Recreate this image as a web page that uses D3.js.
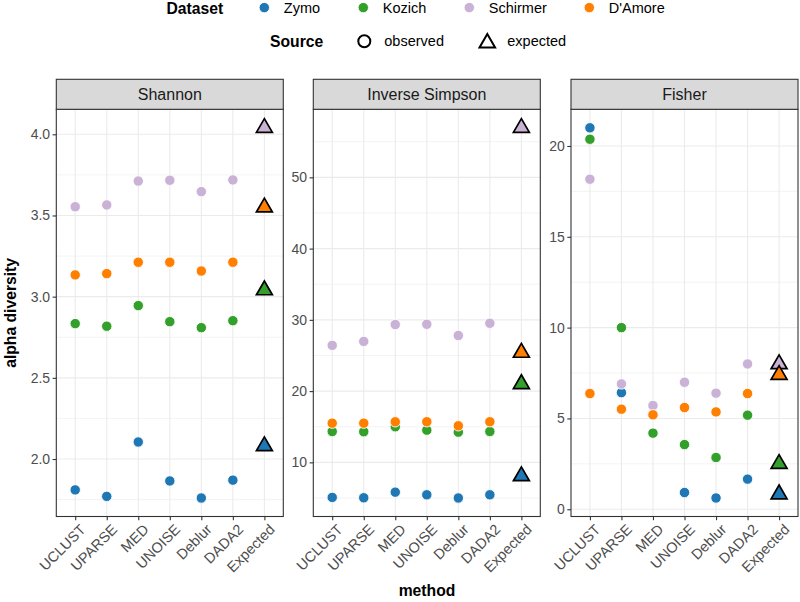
<!DOCTYPE html>
<html><head><meta charset="utf-8">
<script src="https://cdn.jsdelivr.net/npm/d3@7"></script>
<style>body{margin:0;background:#fff}svg{display:block}text{font-family:"Liberation Sans",Arial,Helvetica,sans-serif}</style>
</head><body><svg id="c" width="800" height="602"></svg>
<script>
const methods = ["UCLUST","UPARSE","MED","UNOISE","Deblur","DADA2","Expected"];
const datasets = ["Zymo","Kozich","Schirmer","D'Amore"];
const colors = ["#1F78B4","#33A02C","#CAB2D6","#FF7F00"];
const metrics = ["Shannon","Inverse Simpson","Fisher"];

// observed values per dataset, methods UCLUST..DADA2
const shannonZymo     = [1.81, 1.77, 2.105, 1.865, 1.76, 1.87];
const shannonKozich   = [2.834, 2.818, 2.945, 2.846, 2.809, 2.852];
const shannonSchirmer = [3.554, 3.565, 3.712, 3.717, 3.647, 3.719];
const shannonDAmore   = [3.134, 3.142, 3.212, 3.212, 3.158, 3.212];
const shannonExpected = [2.08, 3.04, 4.04, 3.55];

const invsimpZymo     = [5.08, 5.03, 5.82, 5.45, 5.0, 5.45];
const invsimpKozich   = [14.33, 14.3, 15.0, 14.52, 14.24, 14.33];
const invsimpSchirmer = [26.42, 26.97, 29.34, 29.38, 27.8, 29.52];
const invsimpDAmore   = [15.5, 15.5, 15.69, 15.7, 15.13, 15.7];
const invsimpExpected = [8.07, 21.0, 56.95, 25.4];

const fisherZymo     = [21.0, 6.42, 5.2, 0.92, 0.62, 1.66];
const fisherKozich   = [20.37, 10.0, 4.19, 3.56, 2.85, 5.18];
const fisherSchirmer = [18.17, 6.9, 5.71, 6.99, 6.39, 8.0];
const fisherDAmore   = [6.37, 5.51, 5.2, 5.6, 5.36, 6.37];
const fisherExpected = [0.83, 2.5, 7.99, 7.4];

const yTicks = [[2.0,2.5,3.0,3.5,4.0],[10,20,30,40,50],[0,5,10,15,20]];
const yMinor = [[1.75,2.25,2.75,3.25,3.75],[5,15,25,35,45,55],[2.5,7.5,12.5,17.5]];
const yFmt = [d3.format(".1f"), d3.format("d"), d3.format("d")];

const observed = [
  [shannonZymo, shannonKozich, shannonSchirmer, shannonDAmore],
  [invsimpZymo, invsimpKozich, invsimpSchirmer, invsimpDAmore],
  [fisherZymo, fisherKozich, fisherSchirmer, fisherDAmore]
];
const expected = [shannonExpected, invsimpExpected, fisherExpected];

const svg = d3.select("#c");
const panelLefts = [56.3, 313.3, 571];
const panelW = 227, panelTop = 109.3, panelBot = 516.5, stripTop = 79.3;
const dark = "#333333";

const triPath = r => `M0,${-r}L${0.866*r},${r/2}L${-0.866*r},${r/2}Z`;

metrics.forEach((m, mi) => {
  const L = panelLefts[mi];
  const g = svg.append("g");
  const x = d3.scalePoint().domain(methods).range([L, L+panelW]).padding(0.6);
  const all = observed[mi].flat().concat(expected[mi]);
  const [lo, hi] = d3.extent(all);
  const pad = (hi-lo)*0.05;
  const y = d3.scaleLinear().domain([lo-pad, hi+pad]).range([panelBot, panelTop]);

  g.append("rect").attr("x",L).attr("y",panelTop).attr("width",panelW).attr("height",panelBot-panelTop).attr("fill","#fff");
  g.selectAll(".mn").data(yMinor[mi].filter(v=>y(v)>=panelTop&&y(v)<=panelBot)).join("line")
    .attr("x1",L).attr("x2",L+panelW).attr("y1",d=>y(d)).attr("y2",d=>y(d))
    .attr("stroke","#EBEBEB").attr("stroke-width",0.6);
  g.selectAll(".mj").data(yTicks[mi]).join("line")
    .attr("x1",L).attr("x2",L+panelW).attr("y1",d=>y(d)).attr("y2",d=>y(d))
    .attr("stroke","#EBEBEB").attr("stroke-width",1.1);
  g.selectAll(".mx").data(methods).join("line")
    .attr("x1",d=>x(d)).attr("x2",d=>x(d)).attr("y1",panelTop).attr("y2",panelBot)
    .attr("stroke","#EBEBEB").attr("stroke-width",1.1);

  observed[mi].forEach((vals, di) => {
    g.selectAll(null).data(vals).join("circle")
      .attr("cx",(d,i)=>x(methods[i])).attr("cy",d=>y(d)).attr("r",5.2)
      .attr("fill",colors[di]).attr("stroke","#fff").attr("stroke-width",0.9);
  });
  g.selectAll(null).data(expected[mi]).join("path")
    .attr("d",triPath(9.2))
    .attr("transform",d=>`translate(${x("Expected")},${y(d)})`)
    .attr("fill",(d,i)=>colors[i]).attr("stroke","#000").attr("stroke-width",1.7)
    .attr("stroke-linejoin","miter");

  g.append("rect").attr("x",L).attr("y",panelTop).attr("width",panelW).attr("height",panelBot-panelTop)
    .attr("fill","none").attr("stroke",dark).attr("stroke-width",1.1);
  g.append("rect").attr("x",L).attr("y",stripTop).attr("width",panelW).attr("height",panelTop-stripTop)
    .attr("fill","#D9D9D9").attr("stroke",dark).attr("stroke-width",1.1);
  g.append("text").attr("x",L+panelW/2).attr("y",(stripTop+panelTop)/2).attr("dy","0.36em")
    .attr("text-anchor","middle").attr("font-size",16).attr("fill","#1A1A1A").text(m);

  const ya = g.append("g").attr("transform",`translate(${L},0)`)
    .call(d3.axisLeft(y).tickValues(yTicks[mi]).tickFormat(yFmt[mi]).tickSize(3.7).tickPadding(2.5));
  ya.select(".domain").remove();
  ya.selectAll(".tick line").attr("stroke",dark).attr("stroke-width",1.1);
  ya.selectAll(".tick text").attr("fill","#4D4D4D").attr("font-size",14).attr("font-family",'"Liberation Sans",Arial,sans-serif');

  const xa = g.append("g").attr("transform",`translate(0,${panelBot})`)
    .call(d3.axisBottom(x).tickSize(3.7).tickFormat(""));
  xa.select(".domain").remove();
  xa.selectAll(".tick line").attr("stroke",dark).attr("stroke-width",1.1);
  g.selectAll(".xl").data(methods).join("text")
    .attr("transform",d=>`translate(${x(d)+4},${panelBot+6.5}) rotate(-45)`)
    .attr("dy","0.72em").attr("text-anchor","end").attr("font-size",14.5).attr("fill","#4D4D4D").text(d=>d);
});

svg.append("text").attr("transform","translate(15.5,312.9) rotate(-90)").attr("text-anchor","middle")
  .attr("font-size",15.7).attr("font-weight","bold").attr("fill","#000").text("alpha diversity");
svg.append("text").attr("x",427).attr("y",596).attr("text-anchor","middle")
  .attr("font-size",15.7).attr("font-weight","bold").attr("fill","#000").text("method");

const lg = svg.append("g");
lg.append("text").attr("x",166.5).attr("y",13.6).attr("font-size",15.7).attr("font-weight","bold").text("Dataset");
const legX = [264.3, 363.3, 469.3, 589.3];
datasets.forEach((d,i)=>{
  lg.append("circle").attr("cx",legX[i]).attr("cy",7.6).attr("r",5.2).attr("fill",colors[i]).attr("stroke","#fff").attr("stroke-width",0.9);
  lg.append("text").attr("x",legX[i]+19.5).attr("y",13).attr("font-size",14.5).attr("fill","#000").text(d);
});
lg.append("text").attr("x",270).attr("y",46.8).attr("font-size",15.7).attr("font-weight","bold").text("Source");
lg.append("circle").attr("cx",364.3).attr("cy",41.3).attr("r",6).attr("fill","none").attr("stroke","#000").attr("stroke-width",2);
lg.append("text").attr("x",384.3).attr("y",46.3).attr("font-size",14.5).text("observed");
lg.append("path").attr("d",triPath(9)).attr("transform","translate(487.3,43)").attr("fill","none").attr("stroke","#000").attr("stroke-width",2);
lg.append("text").attr("x",507.3).attr("y",46.3).attr("font-size",14.5).text("expected");
</script></body></html>
